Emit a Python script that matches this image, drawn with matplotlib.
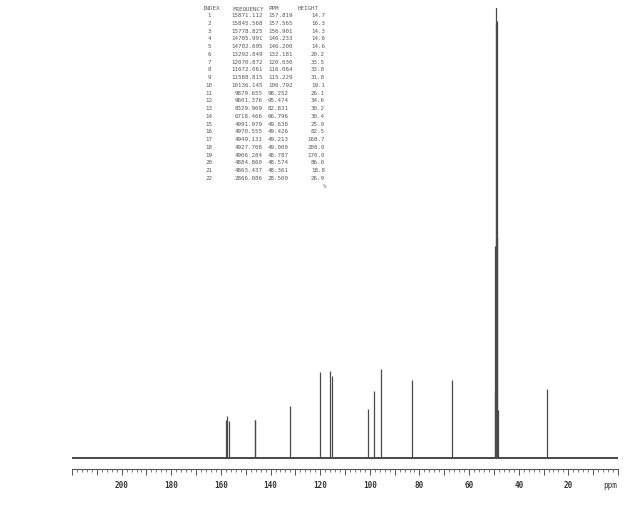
import matplotlib
matplotlib.use("Agg")
import matplotlib.pyplot as plt
from matplotlib.ticker import MultipleLocator, FuncFormatter

# ---- data (peak list from the printed table) ----
index = list(range(1, 23))
frequency = ["15871.112", "15845.568", "15778.825", "14705.991", "14702.695",
             "13292.849", "12070.872", "11672.061", "11588.815", "10136.145",
             "9879.655", "9601.376", "8329.969", "6718.466", "4991.979",
             "4970.555", "4949.131", "4927.708", "4906.284", "4884.860",
             "4863.437", "2866.086"]
ppm = [157.819, 157.565, 156.901, 146.233, 146.200, 132.181, 120.030,
       116.064, 115.229, 100.792, 98.252, 95.474, 82.831, 66.796, 49.638,
       49.426, 49.213, 49.000, 48.787, 48.574, 48.361, 28.500]
height = [14.7, 16.3, 14.3, 14.6, 14.6, 20.2, 33.5, 33.8, 31.8, 19.1, 26.1,
          34.6, 30.2, 30.4, 25.9, 82.5, 168.7, 208.0, 170.0, 86.0, 18.8, 26.9]
tick_values = [200, 180, 160, 140, 120, 100, 80, 60, 40, 20]

W, H = 639, 508
fig = plt.figure(figsize=(W / 100, H / 100), dpi=100)
fig.patch.set_facecolor("white")

ax_left, ax_right, ax_top, ax_bot = 72, 618, 8, 469
ax = fig.add_axes([ax_left / W, 1 - ax_bot / H,
                   (ax_right - ax_left) / W, (ax_bot - ax_top) / H])
ax.set_xlim(220, 0)
ax.set_ylim(-4.3, 175)

# baseline and peaks
ax.hlines(0, 220, 0, color="#3a3a3a", lw=1.3, zorder=2)
ax.vlines(ppm, 0, height, color="#4a4a4a", lw=0.9, zorder=3)

for s in ["top", "left", "right"]:
    ax.spines[s].set_visible(False)
ax.spines["bottom"].set_color("#555555")
ax.spines["bottom"].set_linewidth(0.8)
ax.set_yticks([])

ax.xaxis.set_major_locator(MultipleLocator(10))
ax.xaxis.set_minor_locator(MultipleLocator(2))
ax.xaxis.set_major_formatter(FuncFormatter(
    lambda v, p: f"{int(round(v))}" if int(round(v)) in tick_values else ""))
ax.tick_params(axis="x", which="major", direction="out", length=4,
               width=0.7, color="#555555", pad=5,
               labelsize=5.5, labelcolor="#333333")
ax.tick_params(axis="x", which="minor", direction="out", length=2.5,
               width=0.6, color="#666666")
for lbl in ax.get_xticklabels():
    lbl.set_fontfamily("DejaVu Sans Mono")
    lbl.set_fontweight("bold")

fig.text(617 / W, 1 - 485 / H, "ppm", ha="right", va="center",
         fontsize=5.5, family="DejaVu Sans Mono", color="#333333")

# ---- printed peak table ----
tcol = "#5a5a5a"
fs = 4.2
fam = "DejaVu Sans Mono"
y_head = 9
y0 = 15.7
dy = 7.74

def ft(x, y, s, ha):
    fig.text(x / W, 1 - y / H, s, ha=ha, va="center", fontsize=fs,
             family=fam, color=tcol)

ft(202, y_head, "INDEX", "left")
ft(232, y_head, "FREQUENCY", "left")
ft(268, y_head, "PPM", "left")
ft(298, y_head, "HEIGHT", "left")
for i, (n, f, p, h) in enumerate(zip(index, frequency, ppm, height)):
    y = y0 + i * dy
    ft(209, y, str(n), "center")
    ft(263, y, f, "right")
    ft(268, y, f"{p:.3f}", "left")
    ft(325, y, f"{h:.1f}", "right")
ft(325, 186, "%", "center")

fig.savefig("out.png", dpi=100, facecolor="white")
